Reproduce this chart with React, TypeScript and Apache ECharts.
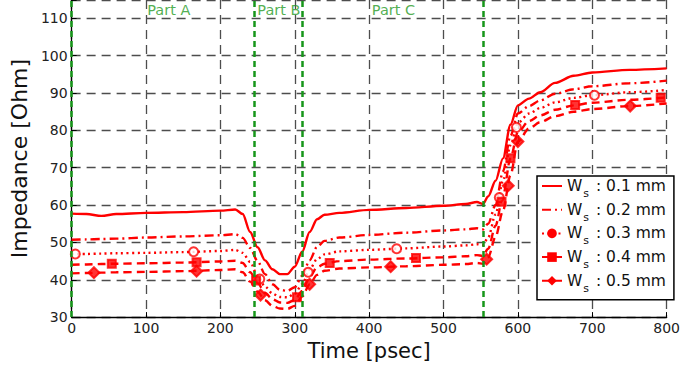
import React, { useEffect, useRef } from "react";
import * as echarts from "echarts";

const time = [0, 20, 40, 60, 100, 150, 200, 220, 230, 240, 250, 260, 270, 280, 290, 300, 310, 320, 330, 340, 360, 400, 450, 500, 530, 545, 553, 560, 570, 580, 590, 600, 615, 630, 650, 675, 700, 750, 800];

const ws01 = [57.7, 57.6, 57.1, 57.6, 57.9, 58.1, 58.5, 58.8, 57.6, 52.8,
  48.7, 45.2, 42.8, 41.5, 41.5, 43.5, 47.5, 52.8, 56.2, 57.4,
  57.9, 58.7, 59.2, 59.8, 60.3, 60.8, 60.3, 62.3, 66.5, 72.5,
  81.5, 86.7, 88.5, 90.2, 92.7, 94.6, 95.5, 96.2, 96.6];
const ws02 = [50.7, 50.8, 50.9, 51.0, 51.3, 51.6, 51.9, 52.2, 51.2, 48.5,
  45.0, 41.5, 38.8, 37.3, 37.0, 38.0, 41.0, 45.2, 48.8, 50.4,
  51.3, 52.0, 52.6, 53.2, 53.5, 53.8, 53.5, 55.0, 60.0, 69.0,
  78.5, 84.5, 86.5, 88.0, 89.8, 91.0, 91.8, 92.6, 93.3];
const ws03 = [46.9, 46.9, 47.0, 47.1, 47.2, 47.4, 47.7, 48.0, 47.2, 44.8,
  41.0, 38.2, 36.3, 35.4, 35.3, 36.3, 38.8, 42.8, 45.5, 46.8,
  47.6, 48.0, 48.4, 48.9, 49.2, 49.5, 49.3, 51.3, 57.5, 66.5,
  76.0, 82.0, 84.5, 86.0, 87.5, 88.7, 89.4, 90.2, 90.8];
const ws04 = [44.0, 44.1, 44.2, 44.3, 44.4, 44.6, 44.9, 45.1, 44.5, 42.0,
  39.2, 36.5, 34.8, 33.9, 33.8, 34.6, 37.0, 40.8, 43.3, 44.3,
  45.0, 45.4, 45.7, 46.0, 46.3, 46.6, 46.4, 48.3, 54.5, 62.5,
  72.5, 79.5, 82.5, 84.0, 85.5, 86.7, 87.4, 88.2, 88.8];
const ws05 = [41.7, 41.8, 41.9, 42.0, 42.1, 42.3, 42.6, 42.8, 42.0, 39.5,
  36.8, 34.5, 33.0, 32.3, 32.2, 33.0, 35.5, 38.8, 41.3, 42.4,
  43.0, 43.3, 43.6, 44.0, 44.2, 44.5, 44.3, 46.0, 51.5, 58.5,
  68.0, 77.0, 80.5, 82.2, 83.8, 85.0, 85.7, 86.5, 87.2];

const markers03 = [[5, 46.9], [164, 47.5], [253, 40.2], [318, 42.0], [437, 48.3], [575, 62.0], [598, 80.8], [703, 89.4]];
const markers04 = [[54, 44.3], [168, 44.7], [248, 39.8], [303, 35.3], [347, 44.5], [463, 45.8], [578, 60.9], [590, 72.5], [677, 86.8], [792, 88.7]];
const markers05 = [[30, 41.9], [168, 42.3], [254, 35.9], [320, 38.8], [429, 43.5], [558, 45.5], [587, 65.2], [600, 77.0], [751, 86.5]];

const widths = ["0.1", "0.2", "0.3", "0.4", "0.5"];
const partBoundaries = [0, 245.5, 310, 553];
const partLabels = [
  { name: "Part A", x: 101, y: 112.1 },
  { name: "Part B", x: 249, y: 112.1 },
  { name: "Part C", x: 403, y: 112.1 },
];

const xTicks = { min: 0, max: 800, interval: 100 };
const yTicks = { min: 30, max: 114.9, interval: 10, lastLabel: 110 };

const RED = "#ff0000";
const GREEN = "#17961a";
const FONT = "DejaVu Sans";

export default function App() {
  const ref = useRef<HTMLDivElement>(null);
  useEffect(() => {
    if (!ref.current) return;
    const chart = echarts.init(ref.current, undefined, { renderer: "svg" });
    const valueSets = [ws01, ws02, ws03, ws04, ws05];
    const names = widths.map((w) => `Ws : ${w} mm`);
    const dashTypes: any[] = ["solid", [9, 4, 2, 4], [2, 3.5], [8, 5], [8, 5]];
    const symbols = ["none", "none", "circle", "rect", "diamond"];

    const lineSeries = valueSets.map((vals, i) => ({
      type: "line",
      name: names[i],
      data: time.map((t, j) => [t, vals[j]]),
      showSymbol: false,
      symbol: symbols[i],
      symbolSize: 9,
      smooth: 0.3,
      smoothMonotone: "x",
      lineStyle: { color: RED, width: 2.4, type: dashTypes[i] },
      itemStyle: { color: RED },
      z: 3,
      ...(i === 0
        ? {
            markLine: {
              silent: true,
              symbol: ["none", "none"],
              label: { show: false },
              lineStyle: { color: GREEN, width: 2.5, type: [6, 4] },
              data: partBoundaries.map((b) => ({ xAxis: b })),
            },
          }
        : {}),
    }));

    const markerSeries = [
      { data: markers03, symbol: "circle", size: 9, fill: "#fff" },
      { data: markers04, symbol: "rect", size: 8, fill: RED },
      { data: markers05, symbol: "diamond", size: 11, fill: RED },
    ].map((m, i) => ({
      type: "scatter",
      name: `markers ${i}`,
      data: m.data,
      symbol: m.symbol,
      symbolSize: m.size,
      itemStyle: { color: m.fill, borderColor: RED, borderWidth: 2 },
      z: 4,
      silent: true,
    }));

    const partSeries = {
      type: "scatter",
      name: "parts",
      data: partLabels.map((p) => ({ value: [p.x, p.y], name: p.name })),
      symbolSize: 1,
      itemStyle: { color: "transparent" },
      label: {
        show: true,
        position: "right",
        distance: 0,
        formatter: "{b}",
        color: "#259a25",
        fontSize: 14.5,
        fontFamily: FONT,
      },
      silent: true,
      z: 5,
    };

    chart.setOption({
      animation: false,
      grid: { left: 66, right: 12, top: -2, bottom: 39, containLabel: false },
      xAxis: {
        type: "value",
        min: xTicks.min,
        max: xTicks.max,
        interval: xTicks.interval,
        name: "Time [psec]",
        nameLocation: "middle",
        nameGap: 21,
        nameTextStyle: { fontSize: 21, fontFamily: FONT, color: "#111", verticalAlign: "top" },
        axisLine: { show: true, lineStyle: { color: "#000", width: 1.3 } },
        axisTick: { show: true, inside: true, length: 5, lineStyle: { color: "#000" } },
        axisLabel: { fontSize: 14, fontFamily: FONT, color: "#222", margin: 4 },
        splitLine: { show: true, lineStyle: { color: "#4d4d4d", width: 1.3, type: [9, 6] } },
      },
      yAxis: {
        type: "value",
        min: yTicks.min,
        max: yTicks.max,
        interval: yTicks.interval,
        name: "Impedance [Ohm]",
        nameLocation: "middle",
        nameGap: 33,
        nameTextStyle: { fontSize: 22, fontFamily: FONT, color: "#111" },
        axisLine: { show: true, lineStyle: { color: "#000", width: 1.3 } },
        axisTick: { show: true, inside: true, length: 5, lineStyle: { color: "#000" } },
        axisLabel: {
          fontSize: 14,
          fontFamily: FONT,
          color: "#222",
          margin: 4,
          formatter: (v: number) => (v % 10 === 0 && v <= yTicks.lastLabel ? String(v) : ""),
        },
        splitLine: { show: true, lineStyle: { color: "#4d4d4d", width: 1.3, type: [9, 6] } },
      },
      legend: {
        orient: "vertical",
        left: 537,
        top: 176,
        padding: [2, 8, 6, 4],
        itemGap: 2.7,
        itemWidth: 20,
        itemHeight: 12,
        backgroundColor: "#fff",
        borderColor: "#000",
        borderWidth: 1.5,
        borderRadius: 0,
        selectedMode: false,
        data: names.map((n, i) => (i < 2 ? { name: n, itemStyle: { opacity: 0 } } : { name: n })),
        formatter: (name: string) => {
          const i = names.indexOf(name);
          return `{w|W}{s|s}{t| : ${widths[i]} mm}`;
        },
        textStyle: {
          fontFamily: FONT,
          color: "#111",
          rich: {
            w: { fontSize: 15.5, lineHeight: 26, fontFamily: FONT, color: "#111" },
            s: { fontSize: 11, verticalAlign: "bottom", fontFamily: FONT, color: "#111", padding: [0, 2, 0, 1] },
            t: { fontSize: 15.5, lineHeight: 26, fontFamily: FONT, color: "#111" },
          },
        },
      },
      series: [...lineSeries, ...markerSeries, partSeries],
    });
    return () => chart.dispose();
  }, []);
  return <div ref={ref} style={{ width: 683, height: 366, position: "absolute", left: 0, top: 0 }} />;
}
